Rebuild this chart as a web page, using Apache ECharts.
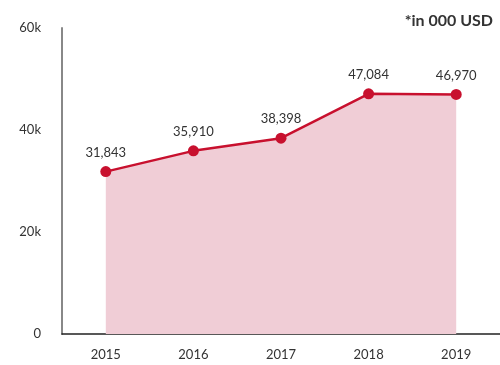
<!DOCTYPE html>
<html>
<head>
<meta charset="utf-8">
<script src="https://cdn.jsdelivr.net/npm/echarts@6/dist/echarts.min.js"></script>
<style>
  html, body { margin: 0; padding: 0; background: #fff; }
  #chart { width: 500px; height: 365px; }
</style>
</head>
<body>
<div id="chart"></div>
<script>
// Yearly values, in thousands of USD
const years = ['2015', '2016', '2017', '2018', '2019'];
const values = [31843, 35910, 38398, 47084, 46970];
const yTicks = [0, 20000, 40000, 60000];

const chart = echarts.init(document.getElementById('chart'), null, { renderer: 'canvas' });

chart.setOption({
  animation: false,
  textStyle: { fontFamily: 'Lato' },
  title: {
    text: '*in 000 USD',
    right: 2,
    top: 8,
    textStyle: { fontFamily: 'Lato', fontSize: 16, fontWeight: 'bold', color: '#333' }
  },
  grid: { left: 62, right: 0, top: 28, bottom: 31 },
  xAxis: {
    type: 'category',
    data: years,
    boundaryGap: true,
    axisLine: { lineStyle: { color: '#222', width: 1.5 } },
    axisTick: { show: false },
    axisLabel: { color: '#333', fontSize: 13, margin: 14, fontFamily: 'Lato' }
  },
  yAxis: {
    type: 'value',
    min: yTicks[0],
    max: yTicks[yTicks.length - 1],
    interval: 20000,
    axisLine: { show: true, lineStyle: { color: '#888', width: 2 } },
    axisTick: { show: false },
    splitLine: { show: false },
    axisLabel: {
      color: '#333', fontSize: 13, margin: 21, fontFamily: 'Lato',
      formatter: v => (v === 0 ? '0' : (v / 1000) + 'k')
    }
  },
  series: [{
    type: 'line',
    data: values,
    symbol: 'circle',
    symbolSize: 11,
    lineStyle: { color: '#c8102e', width: 2.5 },
    itemStyle: { color: '#c8102e' },
    areaStyle: { color: '#f0cdd6', opacity: 1 },
    label: {
      show: true,
      position: 'top',
      distance: 7,
      color: '#333',
      fontSize: 13,
      fontFamily: 'Lato',
      formatter: p => p.value.toLocaleString('en-US')
    }
  }]
});
</script>
</body>
</html>
